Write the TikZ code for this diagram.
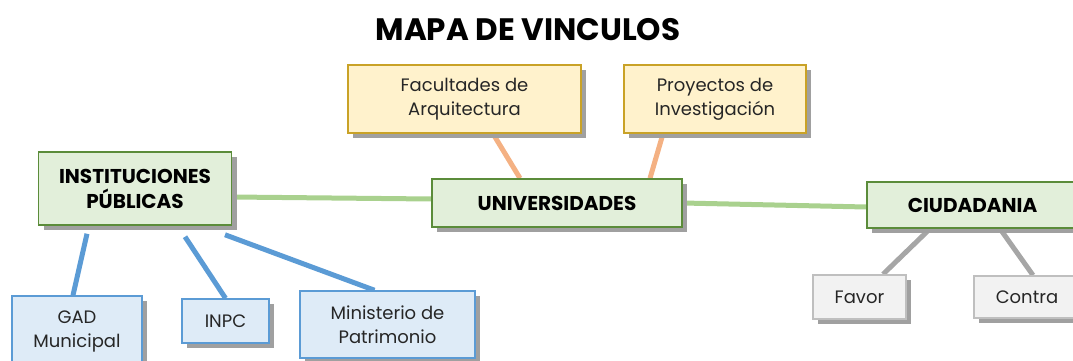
\documentclass[tikz,border=0pt]{standalone}
\usepackage{fontspec}
\setmainfont{Poppins}
\usetikzlibrary{shadows,backgrounds}
\definecolor{gfill}{HTML}{E2EFDA}
\definecolor{gdraw}{HTML}{5B8C3A}
\definecolor{yfill}{HTML}{FFF2CC}
\definecolor{ydraw}{HTML}{C9A227}
\definecolor{bfill}{HTML}{DEEBF7}
\definecolor{bdraw}{HTML}{5B9BD5}
\definecolor{wfill}{HTML}{F2F2F2}
\definecolor{wdraw}{HTML}{BFBFBF}
\definecolor{glink}{HTML}{A9D18E}
\definecolor{olink}{HTML}{F4B183}
\definecolor{blink}{HTML}{5B9BD5}
\definecolor{slink}{HTML}{A6A6A6}
\definecolor{shad}{HTML}{A0A0A0}
\tikzset{
  box/.style={rectangle, inner sep=0pt, line width=1.5pt, align=center,
    drop shadow={shadow xshift=5pt, shadow yshift=-5pt, fill=shad, opacity=1},
    font=\fontsize{18}{24}\selectfont, text=black!85},
  mainbox/.style={box, fill=gfill, draw=gdraw, font=\fontsize{20}{25}\selectfont\bfseries, text=black},
  yelbox/.style={box, fill=yfill, draw=ydraw},
  bluebox/.style={box, fill=bfill, draw=bdraw},
  graybox/.style={box, fill=wfill, draw=wdraw},
  link/.style={line width=5pt},
}
\begin{document}
\begin{tikzpicture}[x=1pt,y=-1pt]
\useasboundingbox (0,0) rectangle (1073,361);
\clip (0,0) rectangle (1073,361);
\node[font=\fontsize{31}{34}\selectfont\bfseries] (title) at (528,30) {MAPA DE VINCULOS};
\node[mainbox, minimum width=193pt, minimum height=73pt] (inst) at (135,188.5) {INSTITUCIONES\\PÚBLICAS};
\node[mainbox, minimum width=250pt, minimum height=48pt] (univ) at (557,203) {UNIVERSIDADES};
\node[mainbox, minimum width=211pt, minimum height=46pt] (ciud) at (972.5,205) {CIUDADANIA};
\node[yelbox, minimum width=233pt, minimum height=68pt] (fac) at (464.5,99) {Facultades de\\Arquitectura};
\node[yelbox, minimum width=182pt, minimum height=68pt] (proy) at (715,99) {Proyectos de\\Investigación};
\node[graybox, minimum width=93pt, minimum height=44pt] (favor) at (859.5,297) {Favor};
\node[graybox, minimum width=106pt, minimum height=42pt] (contra) at (1027,297) {Contra};
\node[bluebox, minimum width=130pt, minimum height=70pt] (gad) at (77,331) {GAD\\Municipal};
\node[bluebox, minimum width=87pt, minimum height=44pt] (inpc) at (225.5,321) {INPC};
\node[bluebox, minimum width=175pt, minimum height=67pt] (min) at (387.5,324.5) {Ministerio de\\Patrimonio};
\begin{scope}[on background layer]
\draw[link, glink] ([yshift=-8.5pt]inst.east) -- ([yshift=4pt]univ.west);
\draw[link, glink] (univ.east) -- ([yshift=-2pt]ciud.west);
\draw[link, olink] ([xshift=28.5pt]fac.south) -- ([xshift=-37pt]univ.north);
\draw[link, olink] ([xshift=-52pt]proy.south) -- ([xshift=93pt]univ.north);
\draw[link, slink] ([xshift=-42.5pt]ciud.south) -- ([xshift=23.5pt]favor.north);
\draw[link, slink] ([xshift=27.5pt]ciud.south) -- ([xshift=6pt]contra.north);
\draw[link, blink] ([xshift=-48pt,yshift=-8pt]inst.south) -- ([xshift=-4pt]gad.north);
\draw[link, blink] ([xshift=50pt,yshift=-11pt]inst.south) -- (inpc.north);
\draw[link, blink] ([xshift=90pt,yshift=-9pt]inst.south) -- ([xshift=-13pt]min.north);
\end{scope}
\end{tikzpicture}
\end{document}
